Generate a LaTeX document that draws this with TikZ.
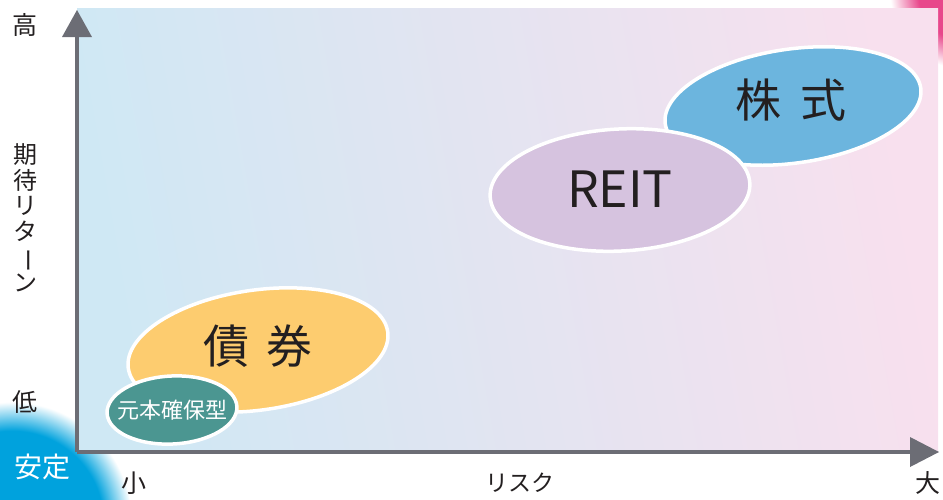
\documentclass[tikz,border=0pt]{standalone}
\usepackage{fontspec}
\newfontfamily\jp{Noto Sans CJK JP}
\usepackage{graphicx}
\definecolor{axisgray}{HTML}{6C6D75}
\definecolor{bgblue}{HTML}{CFE8F4}
\definecolor{bgpink}{HTML}{F8E0EE}
\definecolor{kabu}{HTML}{6CB5DE}
\definecolor{reit}{HTML}{D6C3DF}
\definecolor{saiken}{HTML}{FDCC6F}
\definecolor{gankin}{HTML}{4B9691}
\definecolor{blobblue}{HTML}{00A2DD}
\definecolor{blobpink}{HTML}{E8478B}
\definecolor{txt}{HTML}{231F20}
\pgfdeclareradialshading{blueblob}{\pgfpoint{0bp}{0bp}}{color(0bp)=(blobblue); color(19bp)=(blobblue); color(25bp)=(white); color(50bp)=(white)}
\pgfdeclareradialshading{pinkblob}{\pgfpoint{0bp}{0bp}}{color(0bp)=(blobpink); color(16bp)=(blobpink); color(25bp)=(white); color(50bp)=(white)}
\tikzset{
  blob/.style={ellipse, draw=white, line width=3.5pt, inner sep=0pt},
  lbl/.style={font=\jp\fontsize{25}{26}\selectfont, text=txt, inner sep=0pt},
  big/.style={font=\jp\fontsize{46}{48}\selectfont, text=txt},
}
\usetikzlibrary{shapes.geometric}
\begin{document}
\begin{tikzpicture}[x=1pt,y=1pt]
\useasboundingbox (0,0) rectangle (943,-499);
\clip (0,0) rectangle (943,-499);
% decorative blobs
\shade[shading=blueblob] (12,-522) circle (120);
\shade[shading=pinkblob] (968,8) circle (78);
% plot background
\shade[left color=bgblue, right color=bgpink, shading angle=100] (77,-8) rectangle (938,-452);
% ellipses
\node[blob, fill=kabu, minimum width=258pt, minimum height=114pt, rotate=8] (kabu) at (793,-106) {};
\node[big] at (791,-100) {株\hspace{0.4em}式};
\node[blob, fill=reit, minimum width=260pt, minimum height=122pt, rotate=3] (reit) at (620,-190) {};
\node[font=\jp\fontsize{50}{52}\selectfont, text=txt] at (620,-189) {REIT};
\node[blob, fill=saiken, minimum width=262pt, minimum height=120pt, rotate=8] (saiken) at (258,-350) {};
\node[big] at (258,-346) {債\hspace{0.35em}券};
\node[blob, fill=gankin, minimum width=130pt, minimum height=68pt, rotate=3] (gankin) at (172,-410) {};
\node[font=\jp\fontsize{22}{24}\selectfont, text=white] at (172,-410) {元本確保型};
% axes
\coordinate (o) at (77,-452);
\coordinate (ytop) at (77,-34);
\coordinate (xend) at (912,-452);
\draw[axisgray, line width=4pt] (o) -- (ytop);
\draw[axisgray, line width=4pt] (o) -- (xend);
\fill[axisgray] (77,-10) -- (92,-37) -- (62,-37) -- cycle;
\fill[axisgray] (939,-452) -- (910,-437) -- (910,-467) -- cycle;
% labels
\node[lbl] (hi) at (25,-25) {高};
\node[lbl, align=center, font=\jp\fontsize{24}{25.5}\selectfont] (ret) at (25,-218) {期\\待\\リ\\タ\\\rotatebox[origin=c]{-90}{ー}\\ン};
\node[lbl] (lo) at (25,-402) {低};
\node[lbl, text=white, font=\jp\fontsize{28}{30}\selectfont] (antei) at (42,-467) {安定};
\node[lbl] (sho) at (134,-483) {小};
\node[lbl, font=\jp\fontsize{23}{24}\selectfont] (risk) at (520,-483) {リスク};
\node[lbl] (dai) at (928,-483) {大};
\end{tikzpicture}
\end{document}
